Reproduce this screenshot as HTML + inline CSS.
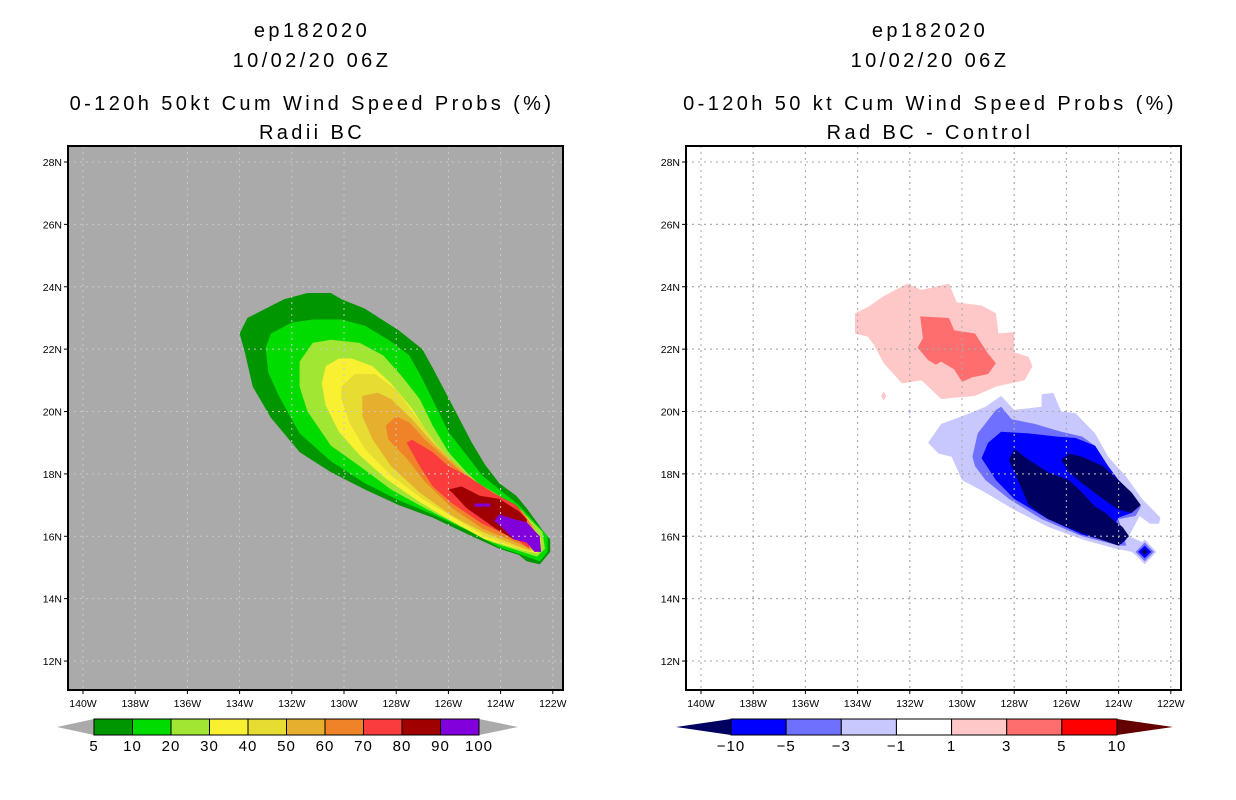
<!DOCTYPE html>
<html><head><meta charset="utf-8"><style>
body{margin:0;background:#fff;width:1236px;height:800px;overflow:hidden}
svg{display:block}
text{font-family:"Liberation Sans",sans-serif}
.tt{letter-spacing:3.4px}
</style></head><body>
<svg id="s" width="1236" height="800" xmlns="http://www.w3.org/2000/svg">
<g font-size="20" text-anchor="middle" fill="#000" class="tt">
<text x="312" y="37">ep182020</text><text x="312" y="67">10/02/20 06Z</text>
<text x="312" y="110">0-120h 50kt Cum Wind Speed Probs (%)</text><text x="312" y="139">Radii BC</text></g>
<g font-size="20" text-anchor="middle" fill="#000" class="tt">
<text x="930" y="37">ep182020</text><text x="930" y="67">10/02/20 06Z</text>
<text x="930" y="110">0-120h 50 kt Cum Wind Speed Probs (%)</text><text x="930" y="139">Rad BC - Control</text></g>
<g id="L"></g>
<g id="R"></g>
<g id="CB"></g>
</svg>
<script>
const lonTicks=[140,138,136,134,132,130,128,126,124,122];
const latTicks=[28,26,24,22,20,18,16,14,12];
const leftLevels=["5","10","20","30","40","50","60","70","80","90","100"];
const leftColors=["#009600","#00dc00","#a0e632","#faf032","#e6dc32","#e6af2d","#f08228","#fa3c3c","#a00000","#8200dc"];
const rightLevels=["-10","-5","-3","-1","1","3","5","10"];
const rightColors=["#0000ff","#7070ff","#c8c8ff","#ffffff","#ffc8c8","#ff6e6e","#ff0000"];
// probability contours [lonW,lat,...]
const p5=[134.0,22.5,133.7,23.0,133.0,23.3,132.3,23.6,131.4,23.8,130.5,23.8,130.1,23.6,129.2,23.3,127.9,22.6,127.0,22.0,126.6,21.4,126.1,20.6,125.6,19.8,125.1,19.0,124.6,18.3,124.05,17.7,123.4,17.3,123.0,16.9,122.4,16.2,122.1,15.9,122.1,15.5,122.5,15.1,123.0,15.2,123.3,15.4,124.05,15.6,125.1,16.0,126.6,16.6,127.9,17.0,129.2,17.5,130.5,18.05,131.7,18.7,132.8,19.8,133.5,20.8,133.8,21.9];
const p10=[133.0,22.05,132.8,22.5,132.0,22.85,131.2,22.95,130.1,22.95,129.2,22.75,128.3,22.3,127.5,21.8,127.0,21.05,126.5,20.2,126.0,19.35,125.3,18.6,124.7,17.95,123.9,17.4,123.3,17.0,122.8,16.55,122.2,16.0,122.2,15.5,122.5,15.2,123.0,15.35,124.05,15.65,125.3,16.2,126.6,16.7,127.9,17.15,129.2,17.7,130.5,18.4,131.7,19.3,132.5,20.5,132.9,21.25];
const p20=[131.7,21.6,131.2,22.2,130.5,22.3,129.4,22.2,128.5,21.8,127.8,21.15,127.1,20.4,126.6,19.55,126.0,18.7,125.3,18.05,124.6,17.5,123.8,17.1,123.0,16.65,122.4,16.15,122.3,15.6,122.6,15.35,123.0,15.45,124.3,15.8,125.6,16.35,126.9,16.9,128.2,17.5,129.4,18.25,130.5,18.9,131.4,20.0,131.7,20.8];
const p30=[130.85,20.9,130.7,21.45,130.2,21.7,129.7,21.7,128.9,21.45,128.2,20.9,127.4,20.1,126.7,19.2,126.1,18.5,125.3,17.85,124.3,17.2,123.4,16.8,122.8,16.35,122.45,15.9,122.45,15.6,122.6,15.45,123.15,15.55,124.6,15.9,125.8,16.45,127.1,17.1,128.4,17.85,129.4,18.6,130.2,19.35,130.7,20.2];
const p40=[130.1,20.8,129.6,21.2,128.8,21.2,128.0,20.7,127.25,19.85,126.5,19.0,125.7,18.25,124.8,17.6,123.8,17.1,123.0,16.65,122.6,16.1,122.6,15.6,122.8,15.5,123.3,15.6,124.6,16.0,125.7,16.55,127.0,17.2,128.2,17.95,129.2,18.8,129.8,19.65,130.1,20.4];
const p50=[129.3,20.5,128.7,20.6,128.2,20.4,127.4,19.75,126.6,19.0,125.85,18.4,124.95,17.75,124.05,17.3,123.15,16.8,122.7,16.25,122.7,15.6,122.9,15.55,123.4,15.7,124.7,16.15,125.85,16.65,127.1,17.4,128.2,18.25,128.9,19.1,129.3,19.85];
const p60=[128.4,19.55,128.0,19.85,127.5,19.65,126.9,19.1,126.1,18.5,125.2,17.85,124.2,17.3,123.3,16.9,122.8,16.35,122.8,15.6,123.4,15.8,124.7,16.25,125.85,16.9,126.9,17.75,127.6,18.5,128.3,19.1];
const p70=[127.6,19.0,127.4,19.1,126.6,18.7,126.0,18.25,125.3,17.95,124.3,17.4,123.4,17.0,123.0,16.55,122.9,15.6,123.4,15.9,124.7,16.4,125.85,17.05,126.6,17.6,127.1,18.25];
const p80=[126.0,17.5,125.5,17.6,124.8,17.3,124.05,17.2,123.3,16.8,123.0,16.55,123.0,15.8,123.5,15.9,124.2,16.25,124.7,16.55,125.3,16.9,125.85,17.4];
const p90=[124.25,16.5,124.05,16.7,123.5,16.55,123.0,16.45,122.5,16.0,122.45,15.5,122.7,15.5,123.0,15.8,123.5,15.9,123.9,16.25];
const p90b=[125.0,17.05,124.4,17.05,124.4,16.95,125.0,16.95];
// difference contours
const dPos1=[134.1,23.15,133.6,23.35,133.0,23.7,132.1,24.1,131.55,23.9,130.5,24.1,130.2,23.5,129.25,23.4,128.7,23.15,128.6,22.5,128.0,22.55,128.0,21.9,127.45,21.75,127.3,21.45,127.6,21.0,128.7,20.8,129.5,20.5,130.8,20.4,131.55,21.0,132.3,20.9,133.0,21.55,133.35,22.1,133.6,22.4,134.1,22.5];
const dPos1b=[133.0,20.65,132.9,20.5,133.0,20.35,133.1,20.5];
const dPos3=[131.6,23.05,130.5,23.0,130.3,22.6,129.5,22.5,129.0,21.85,128.7,21.55,129.0,21.2,129.6,21.1,130.0,20.95,130.3,21.35,130.8,21.6,131.0,21.5,131.3,21.65,131.7,22.05,131.5,22.35];
const dNeg1=[131.3,19.0,130.8,19.6,130.0,19.85,129.1,20.15,128.5,20.5,128.0,20.05,126.95,20.15,126.95,20.55,126.5,20.6,126.2,20.0,125.65,19.95,124.9,19.3,124.4,18.55,123.7,17.9,123.1,17.2,122.4,16.6,122.45,16.4,122.8,16.4,123.2,16.65,123.6,16.0,122.8,15.7,122.7,15.5,123.0,15.15,123.5,15.5,124.1,15.6,125.4,15.9,126.7,16.3,128.0,16.85,129.1,17.4,130.0,17.8,130.4,18.55,130.9,18.65];
const dNeg1b=[132.0,20.1,131.95,20.0,132.0,19.9,132.05,20.0];
const dNeg3=[129.6,18.55,129.4,19.3,128.7,20.05,128.5,20.15,128.1,19.75,127.2,19.6,126.2,19.35,125.4,19.2,124.9,18.9,124.4,18.15,123.85,17.6,123.35,17.2,123.15,16.95,123.35,16.65,124.0,16.55,123.85,16.1,123.7,15.7,124.0,15.7,125.4,16.0,126.95,16.55,128.2,17.2,129.1,17.8,129.5,18.25];
const dNeg5=[129.25,18.5,129.0,19.0,128.5,19.35,127.45,19.3,126.4,19.2,125.65,19.15,124.9,18.9,124.4,18.25,124.0,17.8,123.5,17.3,123.2,17.0,123.5,16.75,124.0,16.6,124.1,16.45,123.7,16.1,123.7,15.9,123.9,15.75,125.4,16.05,126.7,16.55,128.0,17.2,128.7,17.8];
const dNeg10a=[128.2,18.45,128.0,18.8,127.45,18.45,126.7,18.05,125.9,17.8,125.4,17.4,124.9,16.95,124.5,16.75,124.25,16.55,123.85,16.3,123.6,16.0,124.0,15.7,125.4,16.1,126.7,16.55,127.45,17.0,127.7,17.5];
const dNeg10b=[126.2,18.45,125.9,18.65,125.4,18.55,124.6,18.25,124.0,17.8,123.5,17.4,123.15,17.0,123.5,16.75,124.0,16.85,124.6,17.2,125.4,17.7,125.9,18.05];
const dDia1=[123.0,15.9,122.55,15.5,123.0,15.1,123.45,15.5];
const dDia3=[123.0,15.8,122.65,15.5,123.0,15.2,123.35,15.5];
const dDia5=[123.0,15.7,122.75,15.5,123.0,15.3,123.25,15.5];
const dDia10=[123.0,15.6,122.88,15.5,123.0,15.4,123.12,15.5];

const NS="http://www.w3.org/2000/svg";
function mk(p,tag,a){const e=document.createElementNS(NS,tag);for(const k in a)e.setAttribute(k,a[k]);p.appendChild(e);return e;}
const TOP=146,BOT=690,LATY28=162,PXLAT=31.19,PXLON=26.1;
function xs(off){return lon=>off+83+(140-lon)*PXLON;}
function ys(lat){return LATY28+(28-lat)*PXLAT;}
function pts(arr,X){let s=[];for(let i=0;i<arr.length;i+=2)s.push(X(arr[i]).toFixed(1)+","+ys(arr[i+1]).toFixed(1));return s.join(" ");}

function frame(g,off,bg,gridColor,cid){
  const X=xs(off),x0=68+off,x1=563+off;
  mk(g,"rect",{x:x0,y:TOP,width:x1-x0,height:BOT-TOP,fill:bg});
  const d=mk(g,"defs",{});const cp=mk(d,"clipPath",{id:cid});mk(cp,"rect",{x:x0,y:TOP,width:x1-x0,height:BOT-TOP});
  const inner=mk(g,"g",{"clip-path":"url(#"+cid+")"});
  return {X,x0,x1,inner};
}
function gridAxes(g,f,gridColor){
  const X=f.X;
  const gg=mk(g,"g",{});
  
  
  lonTicks.forEach(l=>{const x=X(l);if(x>f.x0+2&&x<f.x1-2)mk(gg,"line",{x1:x,y1:TOP,x2:x,y2:BOT,stroke:gridColor,"stroke-dasharray":"2,4","stroke-width":1});});
  latTicks.forEach(l=>{const y=ys(l);mk(gg,"line",{x1:f.x0,y1:y,x2:f.x1,y2:y,stroke:gridColor,"stroke-dasharray":"2,4","stroke-width":1});});
  mk(g,"rect",{x:f.x0,y:TOP,width:f.x1-f.x0,height:BOT-TOP,fill:"none",stroke:"#000","stroke-width":2});
  const ax=mk(g,"g",{"font-size":"10.5","fill":"#000"});
  
  
  lonTicks.forEach(l=>{const x=X(l);mk(ax,"line",{x1:x,y1:BOT,x2:x,y2:BOT+4,stroke:"#000"});const t=mk(ax,"text",{x:x,y:BOT+17,"text-anchor":"middle"});t.textContent=l+"W";});
  latTicks.forEach(l=>{const y=ys(l);mk(ax,"line",{x1:f.x0-4,y1:y,x2:f.x0,y2:y,stroke:"#000"});const t=mk(ax,"text",{x:f.x0-6,y:y+4,"text-anchor":"end"});t.textContent=l+"N";});
}
function poly(g,arr,X,fill,name){const p=mk(g,"polygon",{points:pts(arr,X),fill:fill});
  
  }

// left
const L=document.getElementById("L");
const fl=frame(L,0,"#aaaaaa","#c8c8c8","cl");
[p5,p10,p20,p30,p40,p50,p60,p70,p80,p90,p90b].forEach((a,i)=>poly(fl.inner,a,fl.X,leftColors[Math.min(i,9)],"prob-contour-"+leftLevels[Math.min(i,9)]));
gridAxes(L,fl,"#c8c8c8");
// right
const R=document.getElementById("R");
const fr=frame(R,618,"#ffffff","#aaaaaa","cr");
gridAxes(R,fr,"#aaaaaa");
const rSeq=[[dPos1,4],[dPos1b,4],[dPos3,5],[dNeg1,2],[dNeg1b,2],[dNeg3,1],[dNeg5,0],[dNeg10a,-1],[dNeg10b,-1],[dDia1,2],[dDia3,1],[dDia5,0],[dDia10,-1]];
rSeq.forEach(([a,ci])=>poly(fr.inner,a,fr.X,ci<0?"#000060":rightColors[ci],"diff-contour"));
const gg2=mk(R,"g",{});


lonTicks.forEach(l=>{const x=fr.X(l);if(x>fr.x0+2&&x<fr.x1-2)mk(gg2,"line",{x1:x,y1:TOP,x2:x,y2:BOT,stroke:"#aaaaaa","stroke-dasharray":"2,4"});});
latTicks.forEach(l=>{const y=ys(l);mk(gg2,"line",{x1:fr.x0,y1:y,x2:fr.x1,y2:y,stroke:"#aaaaaa","stroke-dasharray":"2,4"});});
mk(R,"rect",{x:fr.x0,y:TOP,width:fr.x1-fr.x0,height:BOT-TOP,fill:"none",stroke:"#000","stroke-width":2});

// colorbars
const CB=document.getElementById("CB");
function colorbar(x0,x1,tipL,tipR,colors,labels,lc,rc,name){
  const g=mk(CB,"g",{"font-size":"15"});
  
  
  const y0=719,y1=735,ym=727,w=(x1-x0)/colors.length;
  mk(g,"polygon",{points:`${tipL},${ym} ${x0},${y0} ${x0},${y1}`,fill:lc});
  mk(g,"polygon",{points:`${tipR},${ym} ${x1},${y0} ${x1},${y1}`,fill:rc});
  colors.forEach((c,i)=>mk(g,"rect",{x:x0+i*w,y:y0,width:w,height:y1-y0,fill:c,stroke:"#000","stroke-width":1}));
  labels.forEach((l,i)=>{const t=mk(g,"text",{x:x0+i*w,y:751,"text-anchor":"middle","letter-spacing":"1"});t.textContent=l.replace("-","\u2212");});
}
colorbar(94,479,57,518,leftColors,leftLevels,"#aaaaaa","#aaaaaa","left-colorbar");
colorbar(731,1117,676,1173,rightColors,rightLevels,"#000060","#640000","right-colorbar");
</script>
</body></html>
